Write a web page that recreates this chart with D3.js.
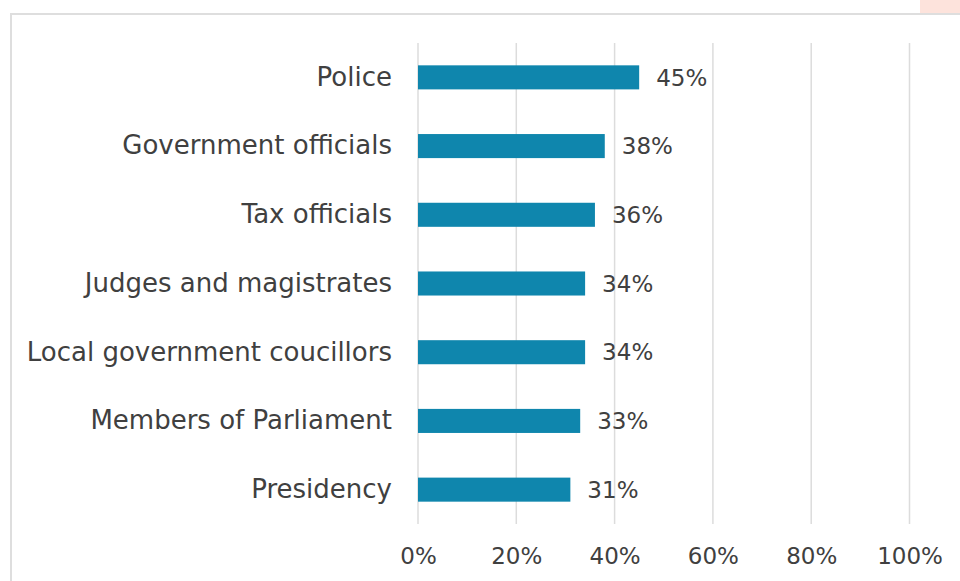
<!DOCTYPE html>
<html>
<head>
<meta charset="utf-8">
<script src="https://cdn.jsdelivr.net/npm/d3@7/dist/d3.min.js"></script>
<style>
  html, body { margin: 0; padding: 0; background: #ffffff; }
  svg { display: block; }
  text { font-family: "Century Gothic", "DejaVu Sans", sans-serif; fill: #404040; }
</style>
</head>
<body>
<svg id="chart" width="960" height="581"></svg>
<script>
// Institutions and the share of respondents naming each
const categories = [
  "Police",
  "Government officials",
  "Tax officials",
  "Judges and magistrates",
  "Local government coucillors",
  "Members of Parliament",
  "Presidency"
];
const values = [0.45, 0.38, 0.36, 0.34, 0.34, 0.33, 0.31];
const tickValues = [0, 0.2, 0.4, 0.6, 0.8, 1.0];

const svg = d3.select("#chart");

// Accent tab at the top-right corner
svg.append("rect")
  .attr("x", 920).attr("y", 0).attr("width", 40).attr("height", 13)
  .attr("fill", "#fde3dc");

// Chart frame
svg.append("rect")
  .attr("x", 11).attr("y", 14).attr("width", 1000).attr("height", 700)
  .attr("fill", "none").attr("stroke", "#dedede").attr("stroke-width", 2);

const plot = { left: 418, right: 909.5, top: 43, bottom: 524 };

const x = d3.scaleLinear().domain([0, 1]).range([plot.left, plot.right]);
const y = d3.scaleBand().domain(categories).range([plot.top, plot.bottom]).paddingInner(0.65).paddingOuter(0.325);

// Vertical gridlines
svg.append("g")
  .selectAll("line")
  .data(tickValues)
  .join("line")
  .attr("x1", d => x(d)).attr("x2", d => x(d))
  .attr("y1", plot.top).attr("y2", plot.bottom)
  .attr("stroke", "#dcdcdc").attr("stroke-width", 1.5);

// Bars
svg.append("g")
  .selectAll("rect")
  .data(categories)
  .join("rect")
  .attr("x", x(0))
  .attr("y", d => y(d))
  .attr("width", (d, i) => x(values[i]) - x(0))
  .attr("height", y.bandwidth())
  .attr("fill", "#0f86ad");

const fmt = d3.format(".0%");

// Value labels
svg.append("g")
  .selectAll("text")
  .data(categories)
  .join("text")
  .attr("x", (d, i) => x(values[i]) + 17)
  .attr("y", d => y(d) + y.bandwidth() / 2)
  .attr("dy", "0.36em")
  .attr("font-size", 23)
  .text((d, i) => fmt(values[i]));

// Category axis (labels only)
const yAxis = d3.axisLeft(y).tickSize(0).tickPadding(26);
const gy = svg.append("g").attr("transform", `translate(${plot.left},0)`).call(yAxis);
gy.select(".domain").remove();
gy.attr("font-family", null).attr("font-size", null);
gy.selectAll("text").attr("font-size", 26).style("fill", "#404040");

// Value axis (labels only)
const xAxis = d3.axisBottom(x).tickValues(tickValues).tickFormat(fmt).tickSize(0).tickPadding(24);
const gx = svg.append("g").attr("transform", `translate(0,${plot.bottom})`).call(xAxis);
gx.select(".domain").remove();
gx.attr("font-family", null).attr("font-size", null);
gx.selectAll("text").attr("font-size", 23).style("fill", "#404040");
</script>
</body>
</html>
